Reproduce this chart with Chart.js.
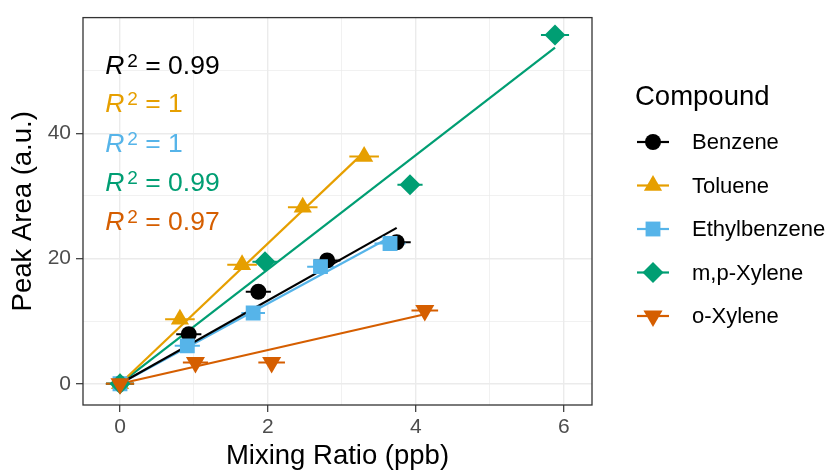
<!DOCTYPE html>
<html>
<head>
<meta charset="utf-8">
<script src="https://cdn.jsdelivr.net/npm/chart.js@4.4.0/dist/chart.umd.min.js"></script>
<style>
html, body { margin: 0; padding: 0; background: #fff; }
</style>
</head>
<body>
<canvas id="mycanvas" width="829" height="472"></canvas>
<script>
// series
var compounds = ['Benzene', 'Toluene', 'Ethylbenzene', 'm,p-Xylene', 'o-Xylene'];
var colors = ['#000000', '#E69F00', '#56B4E9', '#009E73', '#D55E00'];

var benzeneX = [0, 0.93, 1.87, 2.80, 3.74];
var benzeneY = [0, 7.9, 14.7, 19.7, 22.6];
var benzeneErr = [0.19, 0.17, 0.17, 0.18, 0.19];

var tolueneX = [0, 0.81, 1.65, 2.47, 3.30];
var tolueneY = [0, 10.3, 19.0, 28.2, 36.3];
var tolueneErr = [0.19, 0.2, 0.2, 0.2, 0.2];

var ethylX = [0, 0.91, 1.80, 2.71, 3.65];
var ethylY = [0, 6.05, 11.3, 18.7, 22.4];
var ethylErr = [0.19, 0.17, 0.16, 0.18, 0.21];

var xyleneMpX = [0, 1.96, 3.92, 5.88];
var xyleneMpY = [0, 19.5, 31.8, 55.7];
var xyleneMpErr = [0.19, 0.17, 0.17, 0.19];

var xyleneOX = [0, 1.02, 2.05, 4.12];
var xyleneOY = [0, 3.4, 3.4, 11.7];
var xyleneOErr = [0.19, 0.17, 0.18, 0.18];

// fitted lines (end points, all start at 0,0)
var fitEndX = [3.74, 3.30, 3.65, 5.88, 4.12];
var fitEndY = [24.9, 37.0, 23.4, 53.7, 11.1];

var r2Values = ['0.99', '1', '1', '0.99', '0.97'];
var r2LabelY = [51, 44.8, 38.4, 32.2, 26];
var r2LabelX = -0.2;

var xTicks = [0, 1, 2, 3, 4, 5, 6];
var yTicks = [0, 10, 20, 30, 40, 50];

var allX = [benzeneX, tolueneX, ethylX, xyleneMpX, xyleneOX];
var allY = [benzeneY, tolueneY, ethylY, xyleneMpY, xyleneOY];
var allErr = [benzeneErr, tolueneErr, ethylErr, xyleneMpErr, xyleneOErr];

var shapes = ['circle', 'triangle', 'rect', 'rectRot', 'triangle'];
var rotations = [0, 0, 0, 0, 180];
var radii = [8, 10.5, 10.5, 10.5, 11];

var FONT = "'Liberation Sans', Arial, sans-serif";

function toPoints(xs, ys) {
	var pts = [];
	for (var i = 0; i < xs.length; i++) pts.push({x: xs[i], y: ys[i]});
	return pts;
}

var datasets = [];
for (var i = 0; i < compounds.length; i++) {
	datasets.push({
		label: compounds[i] + ' fit',
		data: [{x: 0, y: 0}, {x: fitEndX[i], y: fitEndY[i]}],
		showLine: true,
		borderColor: colors[i],
		borderWidth: 2.2,
		pointRadius: 0,
		fill: false,
		order: 20 + i
	});
}
for (var i = 0; i < compounds.length; i++) {
	datasets.push({
		label: compounds[i],
		data: toPoints(allX[i], allY[i]),
		pointStyle: shapes[i],
		rotation: rotations[i],
		pointRadius: radii[i],
		backgroundColor: colors[i],
		borderColor: colors[i],
		borderWidth: 0,
		order: 5 - i
	});
}

function drawMarker(ctx, i, x, y) {
	ctx.save();
	ctx.fillStyle = colors[i];
	ctx.strokeStyle = colors[i];
	if (Chart.helpers && Chart.helpers.drawPoint) {
		Chart.helpers.drawPoint(ctx, {pointStyle: shapes[i], rotation: rotations[i], radius: radii[i], borderWidth: 0}, x, y);
	} else {
		ctx.beginPath();
		ctx.arc(x, y, radii[i], 0, Math.PI * 2);
		ctx.fill();
	}
	ctx.restore();
}

var extras = {
	id: 'extras',
	beforeDatasetsDraw: function(chart) {
		// horizontal error bars
		var ctx = chart.ctx, xs = chart.scales.x, ys = chart.scales.y, a = chart.chartArea;
		ctx.save();
		ctx.beginPath();
		ctx.rect(a.left, a.top, a.right - a.left, a.bottom - a.top);
		ctx.clip();
		ctx.lineWidth = 2;
		for (var i = 0; i < compounds.length; i++) {
			ctx.strokeStyle = colors[i];
			for (var j = 0; j < allX[i].length; j++) {
				var py = ys.getPixelForValue(allY[i][j]);
				ctx.beginPath();
				ctx.moveTo(xs.getPixelForValue(allX[i][j] - allErr[i][j]), py);
				ctx.lineTo(xs.getPixelForValue(allX[i][j] + allErr[i][j]), py);
				ctx.stroke();
			}
		}
		ctx.restore();
	},
	afterDraw: function(chart) {
		var ctx = chart.ctx, xs = chart.scales.x, ys = chart.scales.y, a = chart.chartArea;
		ctx.save();
		// panel border
		ctx.strokeStyle = '#333333';
		ctx.lineWidth = 1.3;
		ctx.strokeRect(a.left, a.top, a.right - a.left, a.bottom - a.top);

		// R^2 labels
		ctx.textBaseline = 'alphabetic';
		ctx.textAlign = 'left';
		for (var i = 0; i < r2Values.length; i++) {
			var px = xs.getPixelForValue(r2LabelX);
			var py = ys.getPixelForValue(r2LabelY[i]) + 9;
			ctx.fillStyle = colors[i];
			ctx.font = 'italic 26.5px ' + FONT;
			ctx.fillText('R', px, py);
			px += ctx.measureText('R').width + 3;
			ctx.font = '19px ' + FONT;
			ctx.fillText('2', px, py - 7);
			px += ctx.measureText('2').width;
			ctx.font = '26.5px ' + FONT;
			ctx.fillText(' = ' + r2Values[i], px, py);
		}

		// legend
		ctx.fillStyle = '#000000';
		ctx.font = '27.5px ' + FONT;
		ctx.textBaseline = 'middle';
		ctx.fillText('Compound', 635, 97);
		ctx.font = '22px ' + FONT;
		for (var i = 0; i < compounds.length; i++) {
			var ly = 142 + i * 43.5;
			ctx.strokeStyle = colors[i];
			ctx.lineWidth = 2.2;
			ctx.beginPath();
			ctx.moveTo(637, ly);
			ctx.lineTo(669, ly);
			ctx.stroke();
			drawMarker(ctx, i, 653, ly);
			ctx.fillStyle = '#000000';
			ctx.fillText(compounds[i], 692, ly + 1);
		}
		ctx.restore();
	}
};

var ctx = document.getElementById('mycanvas');

var chart = new Chart(ctx, {
	type: 'scatter',
	data: {datasets: datasets},
	plugins: [extras],
	options: {
		responsive: false,
		animation: false,
		layout: {padding: {left: 0, right: 237, top: 13, bottom: 0}},
		plugins: {
			legend: {display: false},
			tooltip: {enabled: false}
		},
		scales: {
			x: {
				type: 'linear',
				min: -0.5,
				max: 6.38,
				afterBuildTicks: function(axis) {
					axis.ticks = xTicks.map(function(v) { return {value: v}; });
				},
				afterFit: function(scale) { scale.height = 67; },
				border: {display: false},
				grid: {
					color: '#EBEBEB',
					lineWidth: function(c) { return c.tick && c.tick.value % 2 === 0 ? 1.4 : 0.7; },
					tickColor: function(c) { return c.tick && c.tick.value % 2 === 0 ? '#333333' : 'rgba(0,0,0,0)'; },
					tickLength: 7,
					tickWidth: 1.2
				},
				ticks: {
					color: '#4D4D4D',
					font: {family: FONT, size: 21},
					padding: 3,
					maxRotation: 0,
					callback: function(v) { return v % 2 === 0 ? String(v) : ''; }
				},
				title: {
					display: true,
					text: 'Mixing Ratio (ppb)',
					color: '#000000',
					font: {family: FONT, size: 27.5, lineHeight: 1.1},
					padding: {top: 0, bottom: 0}
				}
			},
			y: {
				type: 'linear',
				min: -3.4,
				max: 58.5,
				afterBuildTicks: function(axis) {
					axis.ticks = yTicks.map(function(v) { return {value: v}; });
				},
				afterFit: function(scale) { scale.width = 83; },
				border: {display: false},
				grid: {
					color: '#EBEBEB',
					lineWidth: function(c) { return c.tick && c.tick.value % 20 === 0 ? 1.4 : 0.7; },
					tickColor: function(c) { return c.tick && c.tick.value % 20 === 0 ? '#333333' : 'rgba(0,0,0,0)'; },
					tickLength: 7,
					tickWidth: 1.2
				},
				ticks: {
					color: '#4D4D4D',
					font: {family: FONT, size: 21},
					padding: 5,
					callback: function(v) { return v % 20 === 0 ? String(v) : ''; }
				},
				title: {
					display: true,
					text: 'Peak Area (a.u.)',
					color: '#000000',
					font: {family: FONT, size: 27.5, lineHeight: 1.2},
					padding: {top: 7, bottom: 0}
				}
			}
		}
	}
});
</script>
</body>
</html>
